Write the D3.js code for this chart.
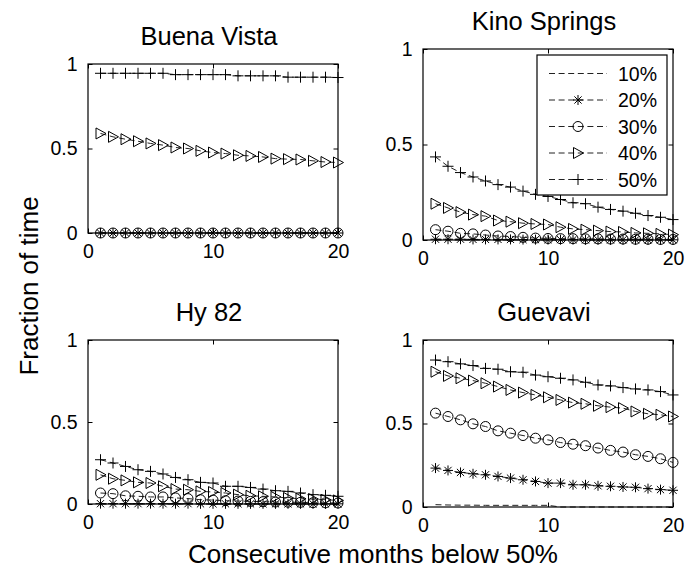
<!DOCTYPE html>
<html><head><meta charset="utf-8">
<script src="https://cdn.jsdelivr.net/npm/d3@7"></script>
<style>
body{margin:0;background:#fff;}
svg text{font-family:"Liberation Sans",Arial,Helvetica,sans-serif;fill:#000;}
</style></head>
<body><svg id="chart" width="697" height="569"></svg>
<script>
// ---------------- data ----------------
const months = [1,2,3,4,5,6,7,8,9,10,11,12,13,14,15,16,17,18,19,20];
const seriesLabels = ["10%","20%","30%","40%","50%"];
const panelTitles = ["Buena Vista","Kino Springs","Hy 82","Guevavi"];
const xTicks = [0,10,20];
const yTicks = [0,0.5,1];
const yTickLabels = ["0","0.5","1"];

// Buena Vista
const bv10 = [0,0,0,0,0,0,0,0,0,0,0,0,0,0,0,0,0,0,0,0];
const bv20 = [0,0,0,0,0,0,0,0,0,0,0,0,0,0,0,0,0,0,0,0];
const bv30 = [0,0,0,0,0,0,0,0,0,0,0,0,0,0,0,0,0,0,0,0];
const bv40 = [0.589,0.569,0.555,0.543,0.530,0.520,0.506,0.500,0.486,0.476,0.470,0.460,0.456,0.450,0.440,0.437,0.435,0.427,0.420,0.417];
const bv50 = [0.945,0.945,0.945,0.945,0.945,0.945,0.937,0.937,0.937,0.937,0.937,0.930,0.930,0.930,0.930,0.922,0.922,0.922,0.922,0.920];

// Kino Springs
const ks10 = [0,0,0,0,0,0,0,0,0,0,0,0,0,0,0,0,0,0,0,0];
const ks20 = [0.004,0.004,0.004,0.003,0.003,0.003,0.003,0.002,0.002,0.002,0.002,0.002,0.001,0.001,0.001,0.001,0.001,0.001,0.001,0.001];
const ks30 = [0.054,0.046,0.035,0.032,0.026,0.021,0.018,0.014,0.010,0.008,0.007,0.007,0.006,0.006,0.005,0.005,0.004,0.004,0.003,0.003];
const ks40 = [0.190,0.168,0.146,0.133,0.125,0.102,0.096,0.088,0.084,0.081,0.067,0.058,0.054,0.049,0.044,0.042,0.037,0.035,0.032,0.028];
const ks50 = [0.435,0.386,0.353,0.330,0.309,0.290,0.277,0.256,0.239,0.228,0.212,0.195,0.190,0.172,0.160,0.151,0.140,0.128,0.119,0.107];

// Hy 82
const hy10 = [0,0,0,0,0,0,0,0,0,0,0,0,0,0,0,0,0,0,0,0];
const hy20 = [0.002,0.002,0.002,0.002,0.002,0.002,0.002,0.002,0.001,0.001,0.001,0.001,0.001,0.001,0.001,0.001,0.001,0.001,0.001,0.001];
const hy30 = [0.067,0.063,0.050,0.047,0.043,0.043,0.037,0.033,0.026,0.024,0.020,0.018,0.016,0.014,0.012,0.011,0.010,0.008,0.007,0.006];
const hy40 = [0.178,0.154,0.144,0.132,0.128,0.108,0.091,0.087,0.077,0.073,0.067,0.057,0.050,0.047,0.043,0.037,0.032,0.030,0.026,0.022];
const hy50 = [0.270,0.250,0.229,0.209,0.199,0.183,0.162,0.148,0.132,0.128,0.108,0.108,0.101,0.091,0.081,0.077,0.067,0.057,0.053,0.047];

// Guevavi
const gu10 = [0.014,0.012,0.011,0.011,0.010,0.010,0.010,0.010,0.010,0.010,0,0,0,0,0,0,0,0,0,0];
const gu20 = [0.233,0.219,0.207,0.199,0.193,0.183,0.173,0.163,0.153,0.143,0.143,0.133,0.133,0.127,0.124,0.120,0.118,0.110,0.104,0.100];
const gu30 = [0.562,0.542,0.522,0.498,0.482,0.456,0.442,0.428,0.412,0.402,0.386,0.376,0.367,0.353,0.339,0.329,0.313,0.303,0.289,0.267];
const gu40 = [0.810,0.785,0.771,0.757,0.741,0.721,0.701,0.685,0.671,0.657,0.641,0.625,0.618,0.606,0.598,0.592,0.572,0.558,0.552,0.542];
const gu50 = [0.880,0.870,0.857,0.847,0.830,0.825,0.810,0.807,0.790,0.780,0.771,0.761,0.747,0.731,0.725,0.715,0.707,0.701,0.691,0.671];

const panelData = [
  [bv10,bv20,bv30,bv40,bv50],
  [ks10,ks20,ks30,ks40,ks50],
  [hy10,hy20,hy30,hy40,hy50],
  [gu10,gu20,gu30,gu40,gu50]
];

// ---------------- layout ----------------
const boxes = [
  {l:88, r:338, t:64, b:233},
  {l:423, r:673, t:49, b:240},
  {l:88, r:338, t:340, b:504},
  {l:423, r:673, t:340, b:507}
];
const markerTypes = ["none","asterisk","circle","triangle","plus"];
const lineColor = "#222";
const dash = "6,3.6";

const svg = d3.select("#chart");

function drawMarker(g, type, x, y){
  const s = g.append("g").attr("transform",`translate(${x},${y})`)
    .attr("fill","none").attr("stroke","#000").attr("stroke-width",1);
  const r = 5;
  if(type==="plus"){
    s.append("path").attr("d",`M${-r-0.5},0H${r+0.5}M0,${-r-0.5}V${r+0.5}`);
  } else if(type==="asterisk"){
    const a = r*0.72;
    s.append("path").attr("d",`M${-r},0H${r}M0,${-r}V${r}M${-a},${-a}L${a},${a}M${-a},${a}L${a},${-a}`);
  } else if(type==="circle"){
    s.append("circle").attr("r",r);
  } else if(type==="triangle"){
    s.append("path").attr("d",`M${-4.5},${-5.5}L${-4.5},${5.5}L${5.5},0Z`);
  }
}

panelData.forEach((series,pi)=>{
  const bx = boxes[pi];
  const x = d3.scaleLinear().domain([0,20]).range([bx.l,bx.r]);
  const y = d3.scaleLinear().domain([0,1]).range([bx.b,bx.t]);
  const g = svg.append("g");

  // series
  series.forEach((vals,si)=>{
    const pts = months.map((m,i)=>[m,vals[i]]);
    const line = d3.line().x(d=>x(d[0])).y(d=>y(d[1]));
    g.append("path").attr("d",line(pts)).attr("fill","none")
      .attr("stroke",lineColor).attr("stroke-width",1).attr("stroke-dasharray",dash);
    if(markerTypes[si]!=="none"){
      pts.forEach(p=>drawMarker(g,markerTypes[si],x(p[0]),y(p[1])));
    }
  });

  // box
  g.append("rect").attr("x",bx.l).attr("y",bx.t).attr("width",bx.r-bx.l).attr("height",bx.b-bx.t)
    .attr("fill","none").attr("stroke","#000").attr("stroke-width",1.2);

  // axes with inward ticks
  const tl = 4.5;
  const axB = d3.axisBottom(x).tickValues(xTicks).tickSize(-tl).tickPadding(tl+7).tickFormat(d3.format("d"));
  const axT = d3.axisTop(x).tickValues(xTicks).tickSize(-tl).tickFormat("");
  const axL = d3.axisLeft(y).tickValues(yTicks).tickSize(-tl).tickPadding(tl+6).tickFormat((d,i)=>yTickLabels[i]);
  const axR = d3.axisRight(y).tickValues(yTicks).tickSize(-tl).tickFormat("");
  [[axB,`translate(0,${bx.b})`],[axT,`translate(0,${bx.t})`],[axL,`translate(${bx.l},0)`],[axR,`translate(${bx.r},0)`]]
    .forEach(([ax,tr])=>{
      const a = g.append("g").attr("transform",tr).call(ax);
      a.select(".domain").remove();
      a.selectAll("line").attr("stroke","#000").attr("stroke-width",1);
      a.selectAll("text").attr("font-size",19.5).attr("font-family",'"Liberation Sans",Arial,sans-serif').attr("fill","#000");
    });

  // title
  g.append("text").attr("x",(bx.l+bx.r)/2 - 4).attr("y",bx.t-19).attr("text-anchor","middle")
    .attr("font-size",25.5).text(panelTitles[pi]);
});

// legend (in Kino Springs panel)
const lg = svg.append("g");
lg.append("rect").attr("x",537).attr("y",55).attr("width",130).attr("height",140)
  .attr("fill","#fff").attr("stroke","#000").attr("stroke-width",1.2);
seriesLabels.forEach((lab,i)=>{
  const yy = 73.5 + i*26.5;
  lg.append("line").attr("x1",549).attr("x2",607).attr("y1",yy).attr("y2",yy)
    .attr("stroke",lineColor).attr("stroke-width",1).attr("stroke-dasharray",dash);
  if(markerTypes[i]!=="none") drawMarker(lg,markerTypes[i],578,yy);
  lg.append("text").attr("x",618).attr("y",yy).attr("dy","0.36em").attr("font-size",19.5).text(lab);
});

// axis labels
svg.append("text").attr("x",373).attr("y",563).attr("text-anchor","middle").attr("font-size",26)
  .text("Consecutive months below 50%");
svg.append("text").attr("transform","translate(38,286) rotate(-90)").attr("text-anchor","middle").attr("font-size",26)
  .text("Fraction of time");
</script></body></html>
